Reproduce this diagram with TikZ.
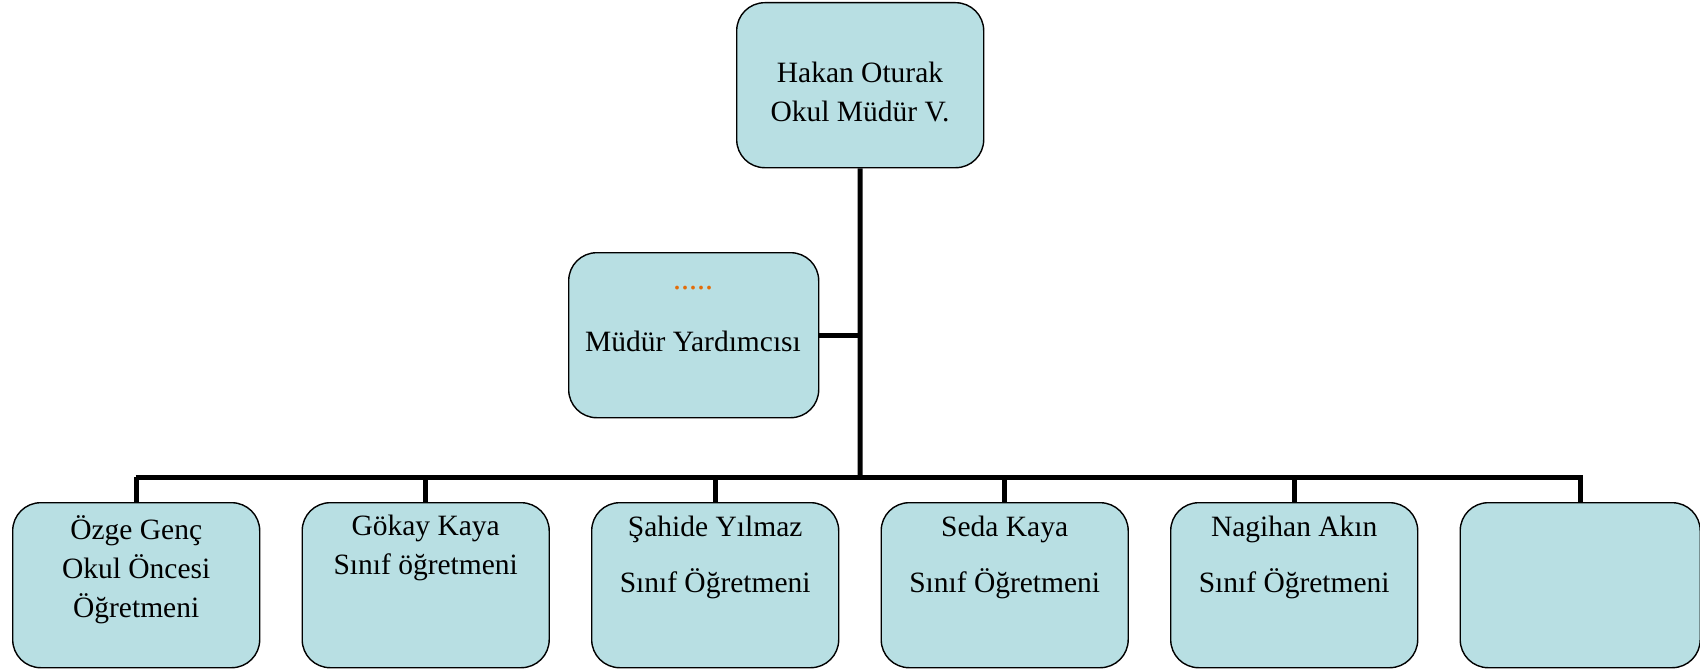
\documentclass[tikz,border=0pt]{standalone}
\usepackage{fontspec}
\setmainfont{Liberation Serif}
\definecolor{boxfill}{HTML}{B8DFE3}
\definecolor{dotorange}{HTML}{E36C09}
\begin{document}
\begin{tikzpicture}[x=1pt,y=-1pt,
  orgbox/.style={draw=black, line width=1.4pt, fill=boxfill, rounded corners=28pt,
    minimum width=247pt, minimum height=165pt, inner sep=0pt, anchor=north west},
  lbl/.style={align=center, font=\fontsize{29.5}{39}\selectfont, inner sep=0pt},
  conn/.style={line width=5pt, draw=black}]
\useasboundingbox (0,0) rectangle (1700,669);
% boxes (x,y = top-left)
\node[orgbox] (top) at (736,2) {};
\node[orgbox, minimum width=250pt] (mid) at (568,252) {};
\node[orgbox] (b1) at (12,502) {};
\node[orgbox] (b2) at (301.5,502) {};
\node[orgbox] (b3) at (591,502) {};
\node[orgbox] (b4) at (880.5,502) {};
\node[orgbox] (b5) at (1170,502) {};
\node[orgbox, minimum width=240pt] (b6) at (1459.5,502) {};
% connectors
\coordinate (bus) at (860,477);
\coordinate (busL) at (135.5,477);
\coordinate (busR) at (1583,477);
\coordinate (midj) at (860,335);
\draw[conn] (top.south) -- (bus);
\draw[conn] (mid.east |- midj) -- (midj);
\draw[conn] (busL) -- (busR);
\foreach \b in {b1,b2,b3,b4,b5,b6} {
  \draw[conn] (\b.north |- bus) -- (\b.north);
}
% texts
\node[lbl] (ttop) at (860,92) {Hakan Oturak\\Okul Müdür V.};
\node[inner sep=0pt, text=dotorange, font=\fontsize{32}{32}\selectfont, anchor=base] (tdots) at (693,289) {.....};
\node[lbl] (tmid) at (693,341) {Müdür Yardımcısı};
\node[lbl] (t1) at (b1.center |- 0,570) {Özge Genç\\Okul Öncesi\\Öğretmeni};
\node[lbl] (t2) at (b2.center |- 0,548) {Gökay Kaya\\Sınıf öğretmeni};
\node[lbl] (t3) at (b3.center |- 0,557) {Şahide Yılmaz\\[17pt]Sınıf Öğretmeni};
\node[lbl] (t4) at (b4.center |- 0,557) {Seda Kaya\\[17pt]Sınıf Öğretmeni};
\node[lbl] (t5) at (b5.center |- 0,557) {Nagihan Akın\\[17pt]Sınıf Öğretmeni};
\end{tikzpicture}
\end{document}
